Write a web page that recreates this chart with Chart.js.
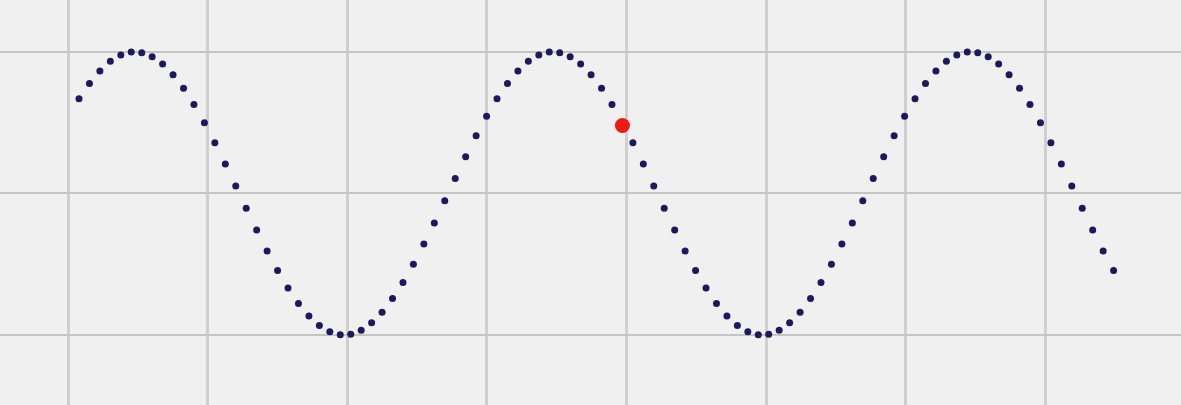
<!DOCTYPE html>
<html>
<head>
<meta charset="utf-8">
<script src="https://cdn.jsdelivr.net/npm/chart.js@4"></script>
<style>
  html, body { margin: 0; padding: 0; background: #f0f0f0; }
  #wave { display: block; background: #f0f0f0; }
</style>
</head>
<body>
<canvas id="wave" width="1181" height="405"></canvas>
<script>
// sample number along the wave
const samples = [
   0,  1,  2,  3,  4,  5,  6,  7,  8,  9,
  10, 11, 12, 13, 14, 15, 16, 17, 18, 19,
  20, 21, 22, 23, 24, 25, 26, 27, 28, 29,
  30, 31, 32, 33, 34, 35, 36, 37, 38, 39,
  40, 41, 42, 43, 44, 45, 46, 47, 48, 49,
  50, 51, 52, 53, 54, 55, 56, 57, 58, 59,
  60, 61, 62, 63, 64, 65, 66, 67, 68, 69,
  70, 71, 72, 73, 74, 75, 76, 77, 78, 79,
  80, 81, 82, 83, 84, 85, 86, 87, 88, 89,
  90, 91, 92, 93, 94, 95, 96, 97, 98, 99
];

// dot heights
const values = [
   0.669,  0.777,  0.866,  0.934,  0.978,  0.999,  0.995,  0.966,  0.914,  0.839,
   0.743,  0.629,  0.500,  0.358,  0.208,  0.052, -0.105, -0.259, -0.407, -0.545,
  -0.669, -0.777, -0.866, -0.934, -0.978, -0.999, -0.995, -0.966, -0.914, -0.839,
  -0.743, -0.629, -0.500, -0.358, -0.208, -0.052,  0.105,  0.259,  0.407,  0.545,
   0.669,  0.777,  0.866,  0.934,  0.978,  0.999,  0.995,  0.966,  0.914,  0.839,
   0.743,  0.629,  0.500,  0.358,  0.208,  0.052, -0.105, -0.259, -0.407, -0.545,
  -0.669, -0.777, -0.866, -0.934, -0.978, -0.999, -0.995, -0.966, -0.914, -0.839,
  -0.743, -0.629, -0.500, -0.358, -0.208, -0.052,  0.105,  0.259,  0.407,  0.545,
   0.669,  0.777,  0.866,  0.934,  0.978,  0.999,  0.995,  0.966,  0.914,  0.839,
   0.743,  0.629,  0.500,  0.358,  0.208,  0.052, -0.105, -0.259, -0.407, -0.545
];

// the highlighted (red) sample
const markerX = [52];
const markerY = [0.48];

// grid positions
const xGrid = [-1.05, 12.31, 25.67, 39.03, 52.39, 65.74, 79.10, 92.46];
const yGrid = [-1, 0, 1];

const wavePoints = samples.map((s, i) => ({ x: s, y: values[i] }));
const markerPoints = markerX.map((s, i) => ({ x: s, y: markerY[i] }));

const ctx = document.querySelector("#wave");
const myChart = new Chart(ctx, {
    type: 'scatter',
    data: {
        datasets: [{
            label: 'marker',
            data: markerPoints,
            backgroundColor: '#ee1b10',
            borderWidth: 0,
            pointRadius: 7.5,
            order: 0
        }, {
            label: 'wave',
            data: wavePoints,
            backgroundColor: '#1c1a5c',
            borderWidth: 0,
            pointRadius: 3.5,
            order: 1
        }]
    },
    options: {
        responsive: false,
        animation: false,
        layout: { padding: 0, autoPadding: false },
        plugins: {
            legend: { display: false },
            tooltip: { enabled: false }
        },
        scales: {
            x: {
                type: 'linear',
                min: -7.56,
                max: 105.45,
                ticks: { display: false },
                border: { display: false },
                grid: { color: '#cfcfcf', lineWidth: 3, drawTicks: false },
                afterBuildTicks: axis => { axis.ticks = xGrid.map(v => ({ value: v })) },
                afterFit: axis => { axis.height = 0 }
            },
            y: {
                min: -1.495,
                max: 1.367,
                ticks: { display: false },
                border: { display: false },
                grid: { color: '#c4c4c4', lineWidth: 2, drawTicks: false },
                afterBuildTicks: axis => { axis.ticks = yGrid.map(v => ({ value: v })) },
                afterFit: axis => { axis.width = 0 }
            }
        }
    }
});
</script>
</body>
</html>
